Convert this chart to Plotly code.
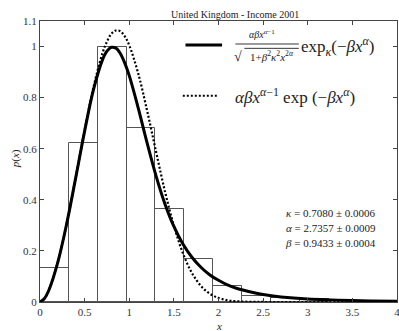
import plotly.graph_objects as go

# histogram of normalised income (bin edges and densities)
bin_edges = [0.0, 0.323, 0.647, 0.970, 1.293, 1.617, 1.940, 2.263, 2.587, 2.910, 3.233]
bin_density = [0.133, 0.623, 0.997, 0.681, 0.366, 0.167, 0.063, 0.025, 0.016, 0.012]

# fitted curves
x_fit = [0.0, 0.05, 0.1, 0.2, 0.3, 0.4, 0.5, 0.6, 0.7, 0.75, 0.8, 0.85, 0.9, 0.95, 1.0,
         1.1, 1.2, 1.3, 1.4, 1.5, 1.6, 1.7, 1.8, 1.9, 2.0, 2.1, 2.2, 2.4, 2.5, 2.7,
         3.0, 3.5, 4.0]
kappa_fit = [0.0, 0.014, 0.047, 0.156, 0.308, 0.486, 0.669, 0.832, 0.948, 0.982, 0.997,
             0.994, 0.973, 0.935, 0.886, 0.760, 0.623, 0.494, 0.384, 0.296, 0.228, 0.176,
             0.137, 0.107, 0.085, 0.067, 0.054, 0.036, 0.029, 0.020, 0.012, 0.006, 0.003]
weibull_fit = [0.0, 0.014, 0.047, 0.156, 0.308, 0.487, 0.673, 0.842, 0.974, 1.019, 1.050,
               1.063, 1.060, 1.040, 1.005, 0.895, 0.749, 0.589, 0.433, 0.299, 0.192, 0.115,
               0.064, 0.033, 0.016, 0.007, 0.003, 0.0004, 0.0001, 0.0, 0.0, 0.0, 0.0]

x_ticks = [0, 0.5, 1, 1.5, 2, 2.5, 3, 3.5, 4]
y_ticks = [0, 0.2, 0.4, 0.6, 0.8, 1, 1.1]
param_lines = ["<i>κ</i> = 0.7080 ± 0.0006",
               "<i>α</i> = 2.7357 ± 0.0009",
               "<i>β</i> = 0.9433 ± 0.0004"]

FONT = "'Liberation Serif', 'DejaVu Serif', serif"
AX = "#444"
DOTS = "2px,2px"

centers = [(a + b) / 2 for a, b in zip(bin_edges[:-1], bin_edges[1:])]
widths = [b - a for a, b in zip(bin_edges[:-1], bin_edges[1:])]

fig = go.Figure()
fig.add_trace(go.Bar(x=centers, y=bin_density, width=widths,
                     marker=dict(color="rgba(0,0,0,0)", line=dict(color="#555", width=1)),
                     showlegend=False))
fig.add_trace(go.Scatter(x=x_fit, y=weibull_fit, mode="lines",
                         line=dict(color="black", width=2.2, dash=DOTS, shape="spline"),
                         showlegend=False))
fig.add_trace(go.Scatter(x=x_fit, y=kappa_fit, mode="lines",
                         line=dict(color="black", width=3, shape="spline"),
                         showlegend=False))

axis_common = dict(showline=True, linecolor=AX, linewidth=1, mirror="ticks",
                   ticks="inside", ticklen=4, tickcolor=AX, showgrid=False,
                   zeroline=False, automargin=False, ticklabeloverflow="allow",
                   tickfont=dict(family=FONT, size=11, color="#333"))
fig.update_xaxes(range=[0, 4], tickvals=x_ticks, **axis_common)
fig.update_yaxes(range=[0, 1.1], tickvals=y_ticks, **axis_common)

ann = []
# title and axis labels
ann.append(dict(text="United Kingdom - Income 2001", x=0.545, y=1.0, xref="paper",
                yref="paper", yshift=14, showarrow=False, font=dict(family=FONT, size=10)))
ann.append(dict(text="<i>x</i>", x=0.5, y=0, xref="paper", yref="paper", yanchor="middle",
                yshift=-24, showarrow=False, font=dict(family=FONT, size=11)))
ann.append(dict(text="<i>p</i>(<i>x</i>)", x=0, y=0.51, xref="paper", yref="paper",
                xshift=-33, textangle=-90, showarrow=False, font=dict(family=FONT, size=11)))

# legend, first entry (fraction)
ann.append(dict(text="<i>αβx</i><sup><i>α</i>−1</sup>", x=2.49, y=1.05, showarrow=False,
                font=dict(family=FONT, size=10)))
ann.append(dict(text="√", x=2.22, y=0.962, showarrow=False, font=dict(family=FONT, size=14)))
ann.append(dict(text="1+<i>β</i><sup>2</sup><i>κ</i><sup>2</sup><i>x</i><sup>2<i>α</i></sup>",
                x=2.6, y=0.962, showarrow=False, font=dict(family=FONT, size=11)))
ann.append(dict(text="exp<sub><i>κ</i></sub>(−<i>βx</i><sup><i>α</i></sup>)", x=2.9, y=1.0,
                xanchor="left", showarrow=False, font=dict(family=FONT, size=17)))
# legend, second entry
ann.append(dict(text="<i>αβx</i><sup><i>α</i>−1</sup> exp (−<i>βx</i><sup><i>α</i></sup>)",
                x=2.16, y=0.807, xanchor="left", showarrow=False, font=dict(family=FONT, size=17)))

# fitted parameters
for i, t in enumerate(param_lines):
    ann.append(dict(text=t, x=3.79, y=0.348 - i * 0.059, xanchor="right",
                    showarrow=False, font=dict(family=FONT, size=11)))

shapes = [
    dict(type="line", x0=1.63, x1=2.04, y0=1.006, y1=1.006, line=dict(color="black", width=3)),
    dict(type="line", x0=1.6, x1=2.0, y0=0.807, y1=0.807, line=dict(color="black", width=2, dash=DOTS)),
    dict(type="line", x0=2.19, x1=2.9, y0=1.01, y1=1.01, line=dict(color="black", width=0.8)),
    dict(type="line", x0=2.29, x1=2.9, y0=0.993, y1=0.993, line=dict(color="black", width=0.8)),
]

fig.update_layout(
    width=399, height=331,
    margin=dict(l=40, r=2, t=21, b=29),
    plot_bgcolor="white", paper_bgcolor="white",
    font=dict(family=FONT, color="#222"),
    bargap=0,
    annotations=ann,
    shapes=shapes,
)

# the page body has a default 8px margin; drop it so the figure fills the window
fig.write_html("out.html", config={"displayModeBar": False},
               post_script="document.body.style.margin='0px';")
